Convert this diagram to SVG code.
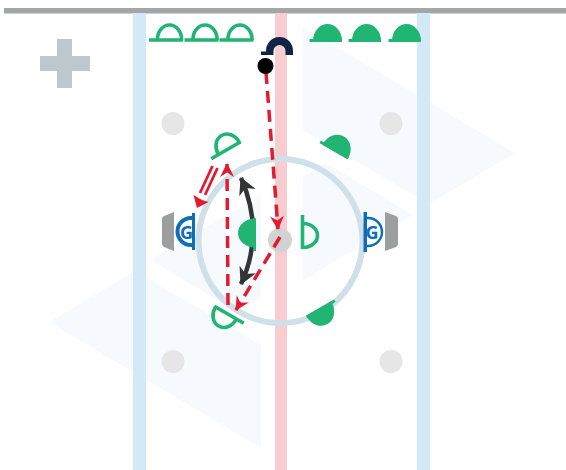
<svg xmlns="http://www.w3.org/2000/svg" width="566" height="470" viewBox="0 0 566 470">
<style>
.wm{fill:#f6fafe}
.ol{fill:none;stroke:#21b573;stroke-width:3.6}
.fl{fill:#21b573}
.rd{fill:none;stroke:#e21b30;stroke-width:3.500;stroke-dasharray:12 7}
.dot{fill:#e6e6e6}
.net{fill:#9d9ea0}
.gl{fill:#0f6db8}
.gt{font-family:"Open Sans",sans-serif;font-weight:700;font-size:18px;fill:#0f6db8;text-anchor:middle}
</style>
<defs>
<g id="open"><path class="ol" d="M-12,0V-1A12,14 0 0 1 12,-1V0"/><path class="ol" d="M-20.500,0H13.500"/></g>
<g id="full"><path class="fl" d="M-14.500,0V-1A14.500,17 0 0 1 14.500,-1V0Z"/><path class="fl" d="M-18,-3H14.500V0H-18Z"/></g>
<marker id="ah" viewBox="0 0 16 16" refX="14" refY="8" markerWidth="16" markerHeight="16" markerUnits="userSpaceOnUse" orient="auto-start-reverse"><path d="M15,8L1,1L5.500,8L1,15Z" fill="#e21b30"/></marker>
<marker id="bh" viewBox="0 0 22 22" refX="18" refY="11" markerWidth="22" markerHeight="22" markerUnits="userSpaceOnUse" orient="auto-start-reverse"><path d="M19,11L2,2L7,11L2,20Z" fill="#333436"/></marker>
</defs>
<rect width="566" height="470" fill="#fff"/>
<g id="watermark">
<path class="wm" d="M303,27L515,153L429,204L303,130Z"/>
<path class="wm" d="M303,177L326,163L413,215L303,280Z"/>
<path class="wm" d="M261,448L49,322L135,271L261,345Z"/>
<path class="wm" d="M261,298L238,312L150,260L261,195Z"/>
</g>
<g id="rink">
<rect x="4" y="8" width="562" height="5.500" fill="#a3a6a8"/>
<rect x="133" y="13" width="13" height="457" fill="#d3e9f8"/>
<rect x="417" y="13" width="13" height="457" fill="#d3e9f8"/>
<rect x="275" y="13" width="12" height="457" fill="#f9ccd0"/>
<circle cx="280.500" cy="241" r="82" fill="none" stroke="#cfe0e8" stroke-width="6"/>
<circle class="dot" cx="173" cy="123.500" r="11.500"/>
<circle class="dot" cx="391" cy="123.500" r="11.500"/>
<circle class="dot" cx="173" cy="361.500" r="11.500"/>
<circle class="dot" cx="391" cy="361.500" r="11.500"/>
<circle cx="280" cy="240" r="12" fill="#d2d2d2"/>
</g>
<g id="cross"><path d="M57,39H72V56H90V71H72V88H57V71H40V56H57Z" fill="#bfc8cc"/></g>
<g id="connectors">
<path class="rd" d="M266,72L278,229" marker-end="url(#ah)"/>
<path class="rd" d="M280,237L236,310" marker-end="url(#ah)"/>
<path class="rd" d="M228,305L227,164" marker-end="url(#ah)"/>
<path d="M241,178Q265,232 241,284" fill="none" stroke="#333436" stroke-width="4.500" marker-start="url(#bh)" marker-end="url(#bh)"/>
<g id="double-arrow" fill="none" stroke="#e21b30" stroke-width="2.800">
<path d="M212.500,166L200,193"/><path d="M217.500,168L205,195"/>
<path d="M197,208L193.500,195L198.500,198L202,200L208.500,202Z" fill="#e21b30" stroke="none"/>
</g>
</g>
<g id="p1"><use href="#open" x="169.500" y="40"/></g>
<g id="p2"><use href="#open" x="205" y="40"/></g>
<g id="p3"><use href="#open" x="240" y="40"/></g>
<g id="p4"><use href="#full" x="327.500" y="42"/></g>
<g id="p5"><use href="#full" x="366.500" y="42"/></g>
<g id="p6"><use href="#full" x="406.500" y="42"/></g>
<g id="coach"><path d="M261,51.500H268V55H261Z" fill="#0f2546"/><path d="M266,55V51A13.500,14 0 0 1 293,51V55H285.500V51A6,6 0 0 0 273.500,51V55Z" fill="#0f2546"/></g>
<g id="puck"><circle cx="265.500" cy="66" r="8" fill="#000"/></g>
<g id="p7"><use href="#open" transform="translate(229,148.500) rotate(-30)"/></g>
<g id="p8"><use href="#open" transform="translate(226,313) rotate(210)"/></g>
<g id="p9"><use href="#full" transform="translate(335,152) rotate(30)"/></g>
<g id="p10"><use href="#full" transform="translate(318.500,308.500) rotate(150)"/></g>
<g id="p11"><use href="#full" transform="translate(256,233) rotate(-90)"/></g>
<g id="p12"><use href="#open" transform="translate(302.500,235.500) rotate(90)"/></g>
<g id="goalie-l">
<path class="net" d="M174,212V251L164,247Q162,246 162,244V219Q162,217 164,216Z"/>
<rect class="gl" x="192" y="213" width="3" height="37"/>
<path d="M193,218H191A13,13 0 0 0 191,245H193" fill="none" stroke="#0f6db8" stroke-width="4"/>
<text class="gt" x="186.500" y="238.500">G</text>
</g>
<g id="goalie-r">
<path class="net" d="M385,212V251L396,247Q398,246 398,244V219Q398,217 396,216Z"/>
<rect class="gl" x="363.500" y="212" width="3.500" height="40"/>
<path d="M366,218H368A14,14 0 0 1 368,246H366" fill="none" stroke="#0f6db8" stroke-width="2.400"/>
<text class="gt" x="372" y="238.500">G</text>
</g>
</svg>
